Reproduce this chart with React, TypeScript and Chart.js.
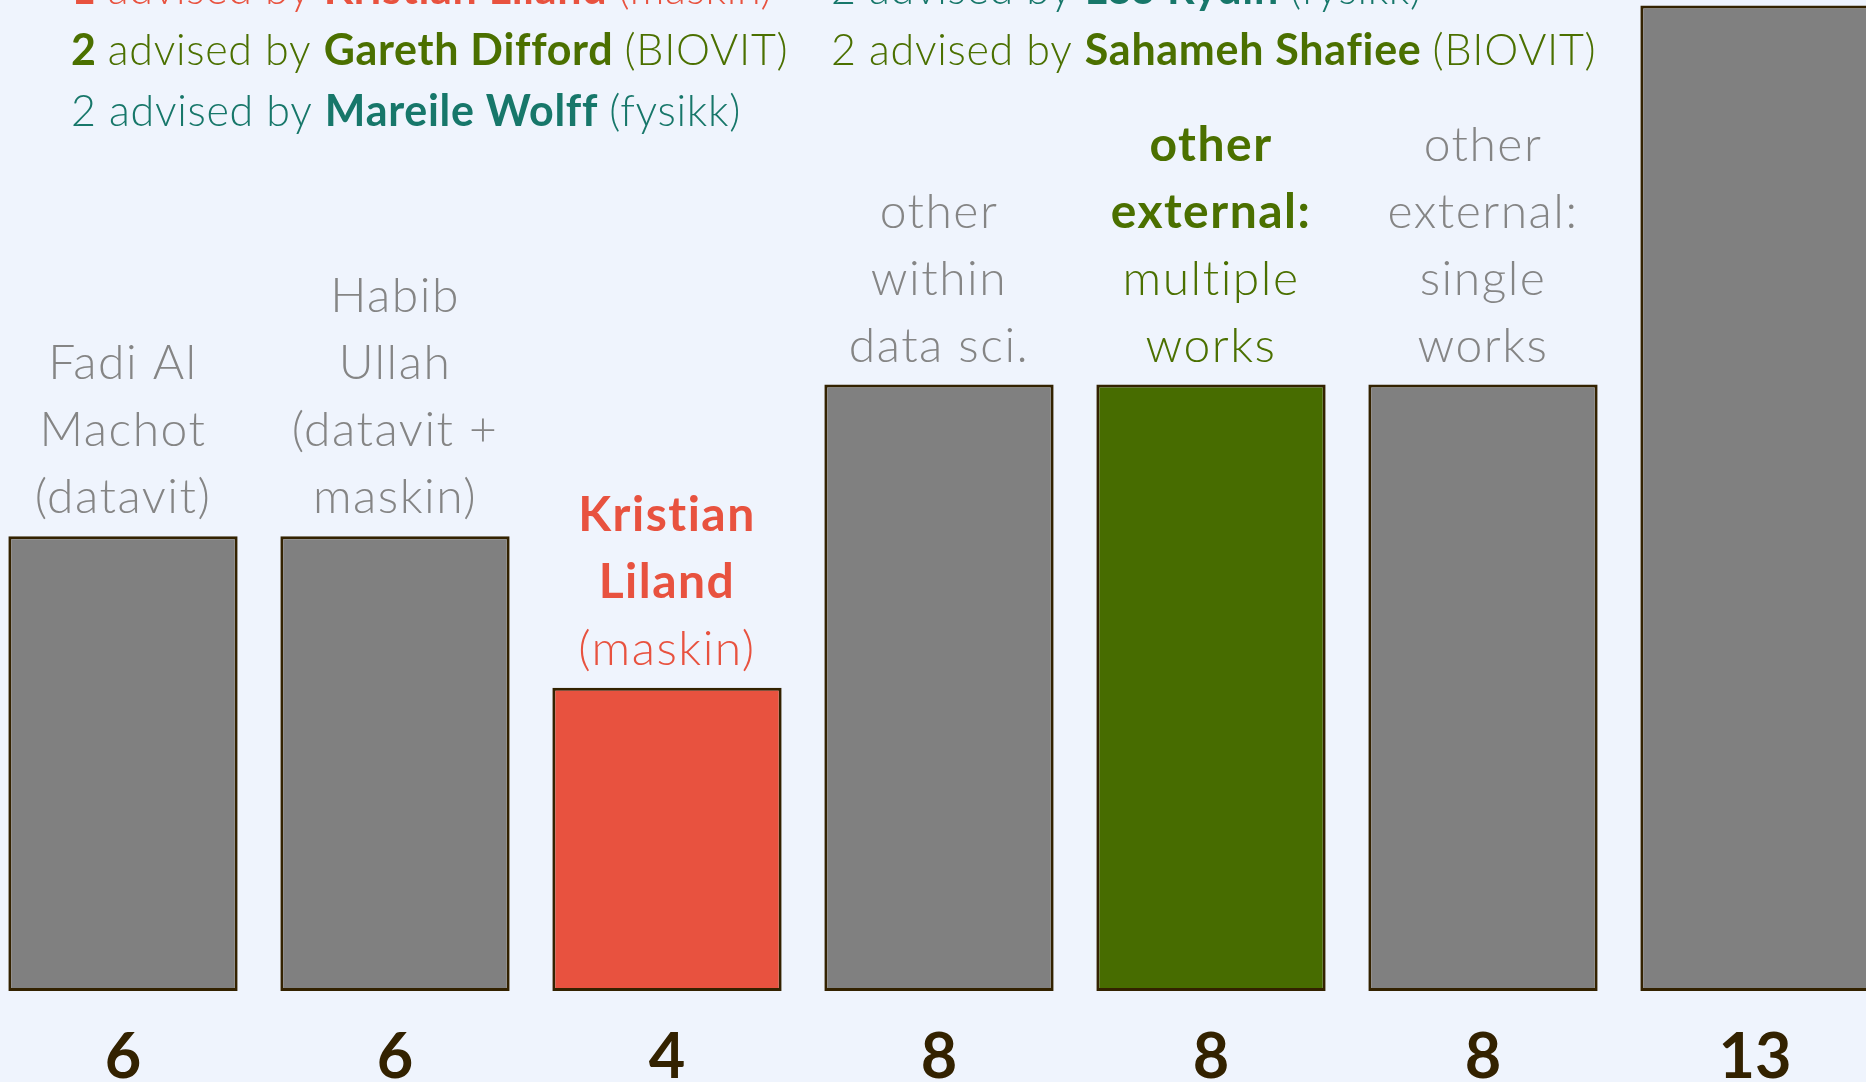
import React, { useEffect, useRef } from "react";
import { Chart, registerables } from "chart.js";

Chart.register(...registerables);

// ---- data ----
const categoryLines: string[][] = [
  ["Fadi Al", "Machot", "(datavit)"],
  ["Habib", "Ullah", "(datavit +", "maskin)"],
  ["Kristian", "Liland", "(maskin)"],
  ["other", "within", "data sci."],
  ["other", "external:", "multiple", "works"],
  ["other", "external:", "single", "works"],
  [""],
];
const boldLineCounts = [0, 0, 2, 0, 2, 0, 0];
const values = [6, 6, 4, 8, 8, 8, 13];

const RED = "#E8523F";
const GREEN = "#476C00";
const GREEN_TEXT = "#4B7000";
const TEAL = "#17776A";
const GRAY = "#808080";
const GRAY_TEXT = "#858585";
const DARK = "#332200";
const BG = "#EFF4FD";

const barColors = [GRAY, GRAY, RED, GRAY, GREEN, GRAY, GRAY];
const labelColors = [GRAY_TEXT, GRAY_TEXT, RED, GRAY_TEXT, GREEN_TEXT, GRAY_TEXT, GRAY_TEXT];

// advisor notes (two columns, three rows)
const noteCounts = ["1", "2", "2", "2", "2"];
const noteCountBold = [true, true, false, false, false];
const noteNames = ["Kristian Liland", "Gareth Difford", "Mareile Wolff", "Leo Rydin", "Sahameh Shafiee"];
const noteDepts = ["(maskin)", "(BIOVIT)", "(fysikk)", "(fysikk)", "(BIOVIT)"];
const noteColors = [RED, GREEN_TEXT, TEAL, TEAL, GREEN_TEXT];
const noteColumn = [0, 0, 0, 1, 1];
const noteRow = [0, 1, 2, 0, 1];

const FONT = "Lato, 'Open Sans', sans-serif";

const labelPlugin = {
  id: "labels",
  afterDatasetsDraw(chart: any) {
    const ctx: any = chart.ctx;
    const meta = chart.getDatasetMeta(0);
    const area = chart.chartArea;
    ctx.save();
    ctx.textBaseline = "alphabetic";
    ctx.textAlign = "center";
    meta.data.forEach((el: any, i: number) => {
      const lines = categoryLines[i];
      const n = lines.length;
      ctx.letterSpacing = "1.5px";
      lines.forEach((line, j) => {
        const bold = j < boldLineCounts[i];
        ctx.font = `${bold ? 700 : 300} 48px ${FONT}`;
        ctx.fillStyle = labelColors[i];
        const y = el.y - 23 - (n - 1 - j) * 67;
        ctx.fillText(line, el.x, y);
      });
      ctx.letterSpacing = "0px";
      ctx.font = `700 63px ${FONT}`;
      ctx.fillStyle = DARK;
      ctx.fillText(String(values[i]), el.x, area.bottom + 87);
    });

    // notes
    ctx.textAlign = "left";
    ctx.letterSpacing = "0.7px";
    const colX = [84, 844];
    const rowY = [4, 65, 126];
    noteCounts.forEach((c, k) => {
      let x = colX[noteColumn[k]];
      const y = rowY[noteRow[k]];
      ctx.fillStyle = noteColors[k];
      const segs: [string, number][] = [
        [c + " ", noteCountBold[k] ? 700 : 300],
        ["advised by ", 300],
        [noteNames[k] + " ", 700],
        [noteDepts[k], 300],
      ];
      segs.forEach(([t, w]) => {
        ctx.font = `${w} 43px ${FONT}`;
        ctx.fillText(t, x, y);
        x += ctx.measureText(t).width;
      });
    });
    ctx.restore();
  },
};

export default function App() {
  const ref = useRef<HTMLCanvasElement | null>(null);
  useEffect(() => {
    if (!ref.current) return;
    const chart = new Chart(ref.current, {
      type: "bar",
      data: {
        labels: categoryLines.map((l) => l.join(" ")),
        datasets: [
          {
            data: values,
            backgroundColor: barColors,
            borderColor: DARK,
            borderWidth: 3,
            borderSkipped: false,
            barPercentage: 1,
            categoryPercentage: 0.843,
          },
        ],
      },
      options: {
        animation: false,
        responsive: false,
        devicePixelRatio: 1,
        layout: { padding: { top: 0, bottom: 91, left: 0, right: 0 } },
        plugins: { legend: { display: false }, tooltip: { enabled: false } },
        scales: {
          x: { display: false },
          y: { display: false, min: 0, max: 991 / 75.8 },
        },
      },
      plugins: [labelPlugin],
    });
    return () => chart.destroy();
  }, []);
  return (
    <div
      style={{
        position: "fixed",
        left: 0,
        top: 0,
        width: 1866,
        height: 1082,
        overflow: "hidden",
        background: BG,
      }}
    >
      <canvas
        ref={ref}
        width={1904}
        height={1082}
        style={{ position: "absolute", left: -13, top: 0, width: 1904, height: 1082 }}
      />
    </div>
  );
}
